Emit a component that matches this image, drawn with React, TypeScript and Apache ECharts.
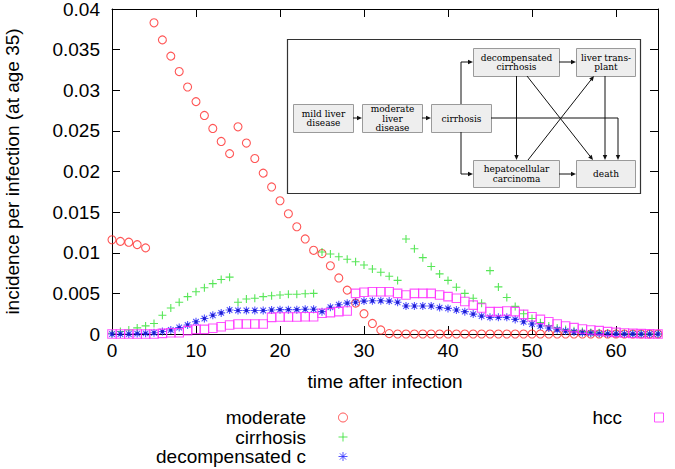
import React, { useEffect, useRef } from 'react';
import * as echarts from 'echarts';

// x positions: years after infection
const years: number[] = Array.from({ length: 66 }, (_, i) => i);

const moderate = [
  0.0116, 0.0114, 0.0113, 0.0110, 0.0106, 0.0383, 0.0362, 0.0342, 0.0323, 0.0304,
  0.0286, 0.0269, 0.0253, 0.0237, 0.0222, 0.0255, 0.0235, 0.0216, 0.0198, 0.0181,
  0.0164, 0.0148, 0.0132, 0.0117, 0.0103, 0.0099, 0.0084, 0.0069, 0.0054, 0.0038,
  0.0025, 0.0013, 0.0005, 0.00005, 0, 0, 0, 0, 0, 0,
  0, 0, 0, 0, 0, 0, 0, 0, 0, 0,
  0, 0, 0, 0, 0, 0, 0, 0, 0, 0,
  0, 0, 0, 0, 0, 0,
];

const cirrhosis = [
  0.0001, 0.0003, 0.0005, 0.00075, 0.0010, 0.0013, 0.0023, 0.0032, 0.0039, 0.0046,
  0.0052, 0.0057, 0.0062, 0.0067, 0.0070, 0.0039, 0.0043, 0.0044, 0.0046, 0.0047,
  0.0048, 0.0049, 0.0049, 0.00495, 0.0050, 0.0101, 0.00985, 0.0095, 0.0092, 0.0089,
  0.0085, 0.0080, 0.0076, 0.0071, 0.0066, 0.0117, 0.0105, 0.0094, 0.0083, 0.0074,
  0.0066, 0.00575, 0.0050, 0.0044, 0.0038, 0.0078, 0.0058, 0.0045, 0.0034, 0.0025,
  0.0019, 0.0014, 0.0010, 0.00075, 0.00055, 0.0004, 0.0003, 0.0002, 0.00015, 0.0001,
  0.00007, 0.00005, 0.00003, 0.00002, 0.00001, 0,
];

const decompensated = [
  0, 0, 0, 0.00005, 0.00008, 0.00015, 0.0003, 0.0005, 0.0008, 0.0011,
  0.0015, 0.0019, 0.0023, 0.0026, 0.00295, 0.0029, 0.0029, 0.0029, 0.0029, 0.00295,
  0.0030, 0.0030, 0.0030, 0.00305, 0.00305, 0.00275, 0.0033, 0.0036, 0.0038, 0.0039,
  0.00405, 0.0041, 0.0041, 0.00405, 0.0039, 0.00345, 0.00345, 0.00345, 0.00345, 0.00325,
  0.00315, 0.00295, 0.00275, 0.00245, 0.0022, 0.00205, 0.00205, 0.00205, 0.0018, 0.0015,
  0.00123, 0.00098, 0.00074, 0.00053, 0.00037, 0.00025, 0.00016, 0.0001, 0.00005, 0.00003,
  0.00002, 0.00001, 0.00001, 0, 0, 0,
];

const hcc = [
  0, 0, 0, 0, 0, 0, 0.00008, 0.00016, 0.00016, 0.00041,
  0.00057, 0.00057, 0.0007, 0.0009, 0.0011, 0.00123, 0.00123, 0.00123, 0.00123, 0.00205,
  0.0021, 0.0021, 0.0021, 0.00213, 0.00213, 0.00255, 0.00263, 0.00275, 0.00283, 0.0050,
  0.00513, 0.0052, 0.0052, 0.0052, 0.0050, 0.0048, 0.0050, 0.0050, 0.0050, 0.0048,
  0.0046, 0.0044, 0.0040, 0.00355, 0.0032, 0.00275, 0.00275, 0.00283, 0.00275, 0.00242,
  0.00213, 0.0018, 0.0015, 0.00123, 0.00098, 0.00078, 0.00062, 0.0005, 0.00041, 0.00029,
  0.0002, 0.00012, 0.00008, 0.00004, 0.00002, 0,
];

const seriesNames = ['moderate', 'cirrhosis', 'decompensated c', 'hcc'];

const diagramBoxes = [
  { x: 293, y: 104, w: 60, h: 28, t: 'mild liver\ndisease' },
  { x: 362, y: 104, w: 60, h: 28, t: 'moderate\nliver\ndisease' },
  { x: 431, y: 104, w: 60, h: 28, t: 'cirrhosis' },
  { x: 473, y: 48, w: 86, h: 28, t: 'decompensated\ncirrhosis' },
  { x: 576, y: 48, w: 59, h: 28, t: 'liver trans-\nplant' },
  { x: 473, y: 160, w: 86, h: 27, t: 'hepatocellular\ncarcinoma' },
  { x: 576, y: 160, w: 59, h: 27, t: 'death' },
];

const diagramArrows: number[][][] = [
  [[353, 118], [362, 118]],
  [[422, 118], [431, 118]],
  [[461, 104], [461, 62], [473, 62]],
  [[461, 132], [461, 174], [473, 174]],
  [[559, 62], [576, 62]],
  [[559, 174], [576, 174]],
  [[491, 118], [618, 118], [618, 160]],
  [[516.5, 76], [516.5, 160]],
  [[527, 76], [593, 160]],
  [[528, 160], [594, 76]],
  [[605, 76], [605, 160]],
];

const SANS = 'Liberation Sans';
const SERIF = 'DejaVu Serif';
const FS = 19;
const RED = '#ff2a2a';
const GREEN = '#2ee02e';
const BLUE = '#2a2aff';
const MAGENTA = '#ff2aff';

function pairs(arr: number[]) {
  return years.map((x, i) => [x, arr[i]]);
}

function arrow(pts: number[][]) {
  const n = pts.length;
  const [x1, y1] = pts[n - 2];
  const [x2, y2] = pts[n - 1];
  const dx = x2 - x1;
  const dy = y2 - y1;
  const L = Math.hypot(dx, dy);
  const ux = dx / L;
  const uy = dy / L;
  const hl = 5;
  const hw = 2.2;
  const bx = x2 - ux * hl;
  const by = y2 - uy * hl;
  const line = pts.slice(0, n - 1).concat([[bx, by]]);
  return [
    { type: 'polyline', shape: { points: line }, style: { stroke: '#111', lineWidth: 1, fill: 'none' }, z: 52, silent: true },
    {
      type: 'polygon',
      shape: { points: [[x2, y2], [bx - uy * hw, by + ux * hw], [bx + uy * hw, by - ux * hw]] },
      style: { fill: '#111' },
      z: 52,
      silent: true,
    },
  ];
}

function buildGraphic() {
  const g: any[] = [];
  g.push({
    type: 'rect',
    shape: { x: 287.5, y: 39.5, width: 353, height: 154 },
    style: { fill: '#fff', stroke: '#333', lineWidth: 1.2 },
    z: 50,
    silent: true,
  });
  diagramBoxes.forEach((b) => {
    g.push({
      type: 'rect',
      shape: { x: b.x + 0.5, y: b.y + 0.5, width: b.w, height: b.h },
      style: { fill: '#eeeeee', stroke: '#9a9a9a', lineWidth: 1 },
      z: 51,
      silent: true,
    });
    g.push({
      type: 'text',
      x: b.x + b.w / 2 + 0.5,
      y: b.y + b.h / 2 + 0.5,
      style: {
        text: b.t,
        fill: '#000',
        fontSize: 9,
        fontFamily: SERIF,
        align: 'center',
        verticalAlign: 'middle',
        lineHeight: 9.3,
      },
      z: 52,
      silent: true,
    });
  });
  diagramArrows.forEach((a) => g.push(...arrow(a)));
  return g;
}

const axisLineStyle = { color: '#000', width: 1 };

export default function App() {
  const ref = useRef<HTMLDivElement>(null);
  useEffect(() => {
    document.body.style.margin = '0';
    if (!ref.current) return;
    const chart = echarts.init(ref.current, undefined, { renderer: 'svg' });
    const xCommon = {
      type: 'value',
      min: 0,
      max: 65,
      interval: 10,
      splitLine: { show: false },
      axisLine: { show: true, onZero: false, lineStyle: axisLineStyle },
      axisTick: { show: true, inside: true, length: 8, lineStyle: axisLineStyle },
    };
    const yCommon = {
      type: 'value',
      min: 0,
      max: 0.04,
      interval: 0.005,
      splitLine: { show: false },
      axisLine: { show: true, onZero: false, lineStyle: axisLineStyle },
      axisTick: { show: true, inside: true, length: 8, lineStyle: axisLineStyle },
    };
    const legendCommon = {
      orient: 'vertical',
      align: 'right',
      top: 408,
      itemWidth: 64,
      itemHeight: 9,
      itemGap: 0.5,
      padding: 0,
      selectedMode: false,
      textStyle: { fontSize: FS, color: '#000', fontFamily: SANS },
      itemStyle: { borderWidth: 1 },
    };
    const option: any = {
      animation: false,
      backgroundColor: '#fff',
      grid: { left: 112, right: 17, top: 9, bottom: 135, containLabel: false, outerBoundsMode: 'none' },
      xAxis: [
        {
          ...xCommon,
          position: 'bottom',
          axisLabel: { margin: 7, fontSize: FS, color: '#000', fontFamily: SANS, showMaxLabel: false },
          name: 'time after infection',
          nameLocation: 'middle',
          nameGap: 38,
          nameTextStyle: { fontSize: FS, color: '#000', fontFamily: SANS },
        },
        { ...xCommon, position: 'top', axisLabel: { show: false } },
      ],
      yAxis: [
        {
          ...yCommon,
          position: 'left',
          axisLabel: { margin: 12, fontSize: FS, color: '#000', fontFamily: SANS },
          name: 'incidence per infection (at age 35)',
          nameLocation: 'middle',
          nameGap: 90,
          nameTextStyle: { fontSize: FS, color: '#000', fontFamily: SANS },
        },
        { ...yCommon, position: 'right', axisLabel: { show: false } },
      ],
      legend: [
        { ...legendCommon, data: [seriesNames[0], seriesNames[1], seriesNames[2]], right: 327 },
        { ...legendCommon, data: [seriesNames[3]], right: 11 },
      ],
      series: [
        {
          type: 'scatter',
          name: seriesNames[0],
          data: pairs(moderate),
          symbol: 'circle',
          symbolSize: 8,
          itemStyle: { color: 'transparent', borderColor: RED, borderWidth: 1.1 },
          silent: true,
        },
        {
          type: 'scatter',
          name: seriesNames[1],
          data: pairs(cirrhosis),
          symbol: 'path://M0,5L10,5M5,0L5,10',
          symbolSize: 8,
          itemStyle: { color: 'transparent', borderColor: GREEN, borderWidth: 1.1 },
          silent: true,
        },
        {
          type: 'scatter',
          name: seriesNames[2],
          data: pairs(decompensated),
          symbol: 'path://M0,5L10,5M5,0L5,10M1.5,1.5L8.5,8.5M1.5,8.5L8.5,1.5',
          symbolSize: 8,
          itemStyle: { color: 'transparent', borderColor: BLUE, borderWidth: 1.1 },
          silent: true,
        },
        {
          type: 'scatter',
          name: 'decompensated c centre',
          data: pairs(decompensated),
          symbol: 'rect',
          symbolSize: 3,
          itemStyle: { color: '#1010c0' },
          silent: true,
        },
        {
          type: 'scatter',
          name: seriesNames[3],
          data: pairs(hcc),
          symbol: 'path://M0,0L10,0L10,10L0,10Z',
          symbolSize: 8.5,
          itemStyle: { color: 'transparent', borderColor: MAGENTA, borderWidth: 1.1 },
          silent: true,
        },
      ],
      graphic: buildGraphic(),
    };
    chart.setOption(option);
    return () => chart.dispose();
  }, []);
  return <div ref={ref} style={{ width: 675, height: 469, position: 'absolute', left: 0, top: 0 }} />;
}
